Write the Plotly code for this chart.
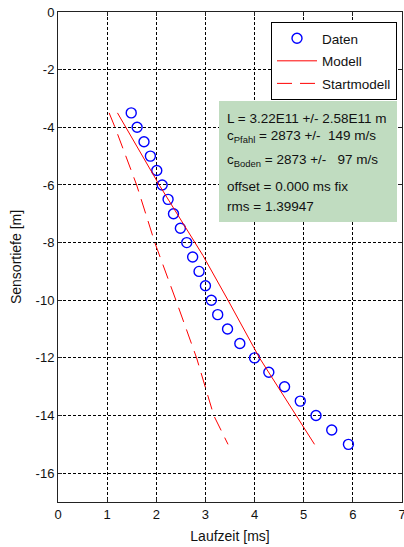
import plotly.graph_objects as go

# Data
daten_t = [1.49, 1.61, 1.75, 1.88, 2.01, 2.12, 2.24, 2.35, 2.49, 2.62, 2.74, 2.87,
           3.00, 3.12, 3.25, 3.45, 3.70, 4.00, 4.29, 4.61, 4.93, 5.25, 5.57, 5.91]
daten_z = [-3.5, -4.0, -4.5, -5.0, -5.5, -6.0, -6.5, -7.0, -7.5, -8.0, -8.5, -9.0,
           -9.5, -10.0, -10.5, -11.0, -11.5, -12.0, -12.5, -13.0, -13.5, -14.0, -14.5, -15.0]
modell_t = [1.21, 2.06, 2.95, 3.46, 4.10, 5.22]
modell_z = [-3.5, -6.0, -8.45, -10.0, -12.0, -15.0]
start_t = [1.04, 1.16, 1.60, 1.97, 2.40, 2.82, 3.17, 3.46]
start_z = [-3.5, -4.0, -6.0, -8.0, -10.0, -12.0, -14.0, -15.0]

x_ticks = [0, 1, 2, 3, 4, 5, 6, 7]
y_ticks = [0, -2, -4, -6, -8, -10, -12, -14, -16]

info_lines = [
    "L = 3.22E11 +/- 2.58E11 m",
    "c<sub>Pfahl</sub> = 2873 +/-&nbsp; 149 m/s",
    "c<sub>Boden</sub> = 2873 +/-&nbsp;&nbsp; 97 m/s",
    "offset = 0.000 ms fix",
    "rms = 1.39947",
]

FONT = "Liberation Sans, Arial, sans-serif"
W, H = 404, 547
ML, MR, MT, MB = 58, 2, 12, 45
PW, PH = W - ML - MR, H - MT - MB


def px(x):
    return (x - ML) / PW


def py(y):
    return 1 - (y - MT) / PH


fig = go.Figure()
fig.add_trace(go.Scatter(x=daten_t, y=daten_z, mode="markers", name="Daten", legendgroup="a",
                         marker=dict(symbol="circle-open", size=10, color="#0000ff",
                                     line=dict(width=1.4, color="#0000ff"))))
fig.add_trace(go.Scatter(x=modell_t, y=modell_z, mode="lines", name="Modell", legendgroup="b",
                         line=dict(color="#ff0000", width=1)))
fig.add_trace(go.Scatter(x=start_t, y=start_z, mode="lines", name="Startmodell", legendgroup="c",
                         line=dict(color="#ff0000", width=1, dash="15px,8px")))

axis_common = dict(
    showline=True, linecolor="#222222", linewidth=1, mirror="allticks",
    ticks="inside", ticklen=4, tickcolor="#222222",
    showgrid=True, gridcolor="#000000", gridwidth=1, griddash="3px,2px",
    zeroline=False, tickfont=dict(size=13, color="#111111", family=FONT),
    automargin=False, ticklabeloverflow="allow",
)

fig.update_xaxes(range=[0, 7], tickvals=x_ticks, ticktext=[str(v) for v in x_ticks],
                 title=dict(text="Laufzeit [ms]", font=dict(size=14, color="#111111", family=FONT),
                            standoff=10), **axis_common)
fig.update_yaxes(range=[-17, 0], tickvals=y_ticks, ticktext=[str(v) for v in y_ticks],
                 title=dict(text="Sensortiefe [m]", font=dict(size=14, color="#111111", family=FONT),
                            standoff=10), **axis_common)

# green info box
fig.add_shape(type="rect", xref="paper", yref="paper",
              x0=px(219), x1=px(397), y0=py(222), y1=py(101),
              fillcolor="#c0dcc0", line=dict(width=0), layer="above")
line_y = [118, 137, 160, 186, 206]
for txt, yy in zip(info_lines, line_y):
    fig.add_annotation(xref="paper", yref="paper", x=px(225), y=py(yy),
                       xanchor="left", yanchor="middle", text=txt, showarrow=False,
                       align="left", font=dict(size=13.5, color="#111111", family=FONT))

fig.update_layout(
    width=W, height=H,
    margin=dict(l=ML, r=MR, t=MT, b=MB),
    paper_bgcolor="white", plot_bgcolor="white",
    font=dict(family=FONT, color="#111111"),
    legend=dict(x=px(397), y=py(22), xanchor="right", yanchor="top",
                bgcolor="white", bordercolor="#000000", borderwidth=1,
                font=dict(size=13.5, family=FONT, color="#111111"),
                itemwidth=40, tracegroupgap=2),
    showlegend=True,
)

fig.write_html("out.html", config={"displayModeBar": False},
               post_script="document.body.style.margin='0';document.body.style.overflow='hidden';")
